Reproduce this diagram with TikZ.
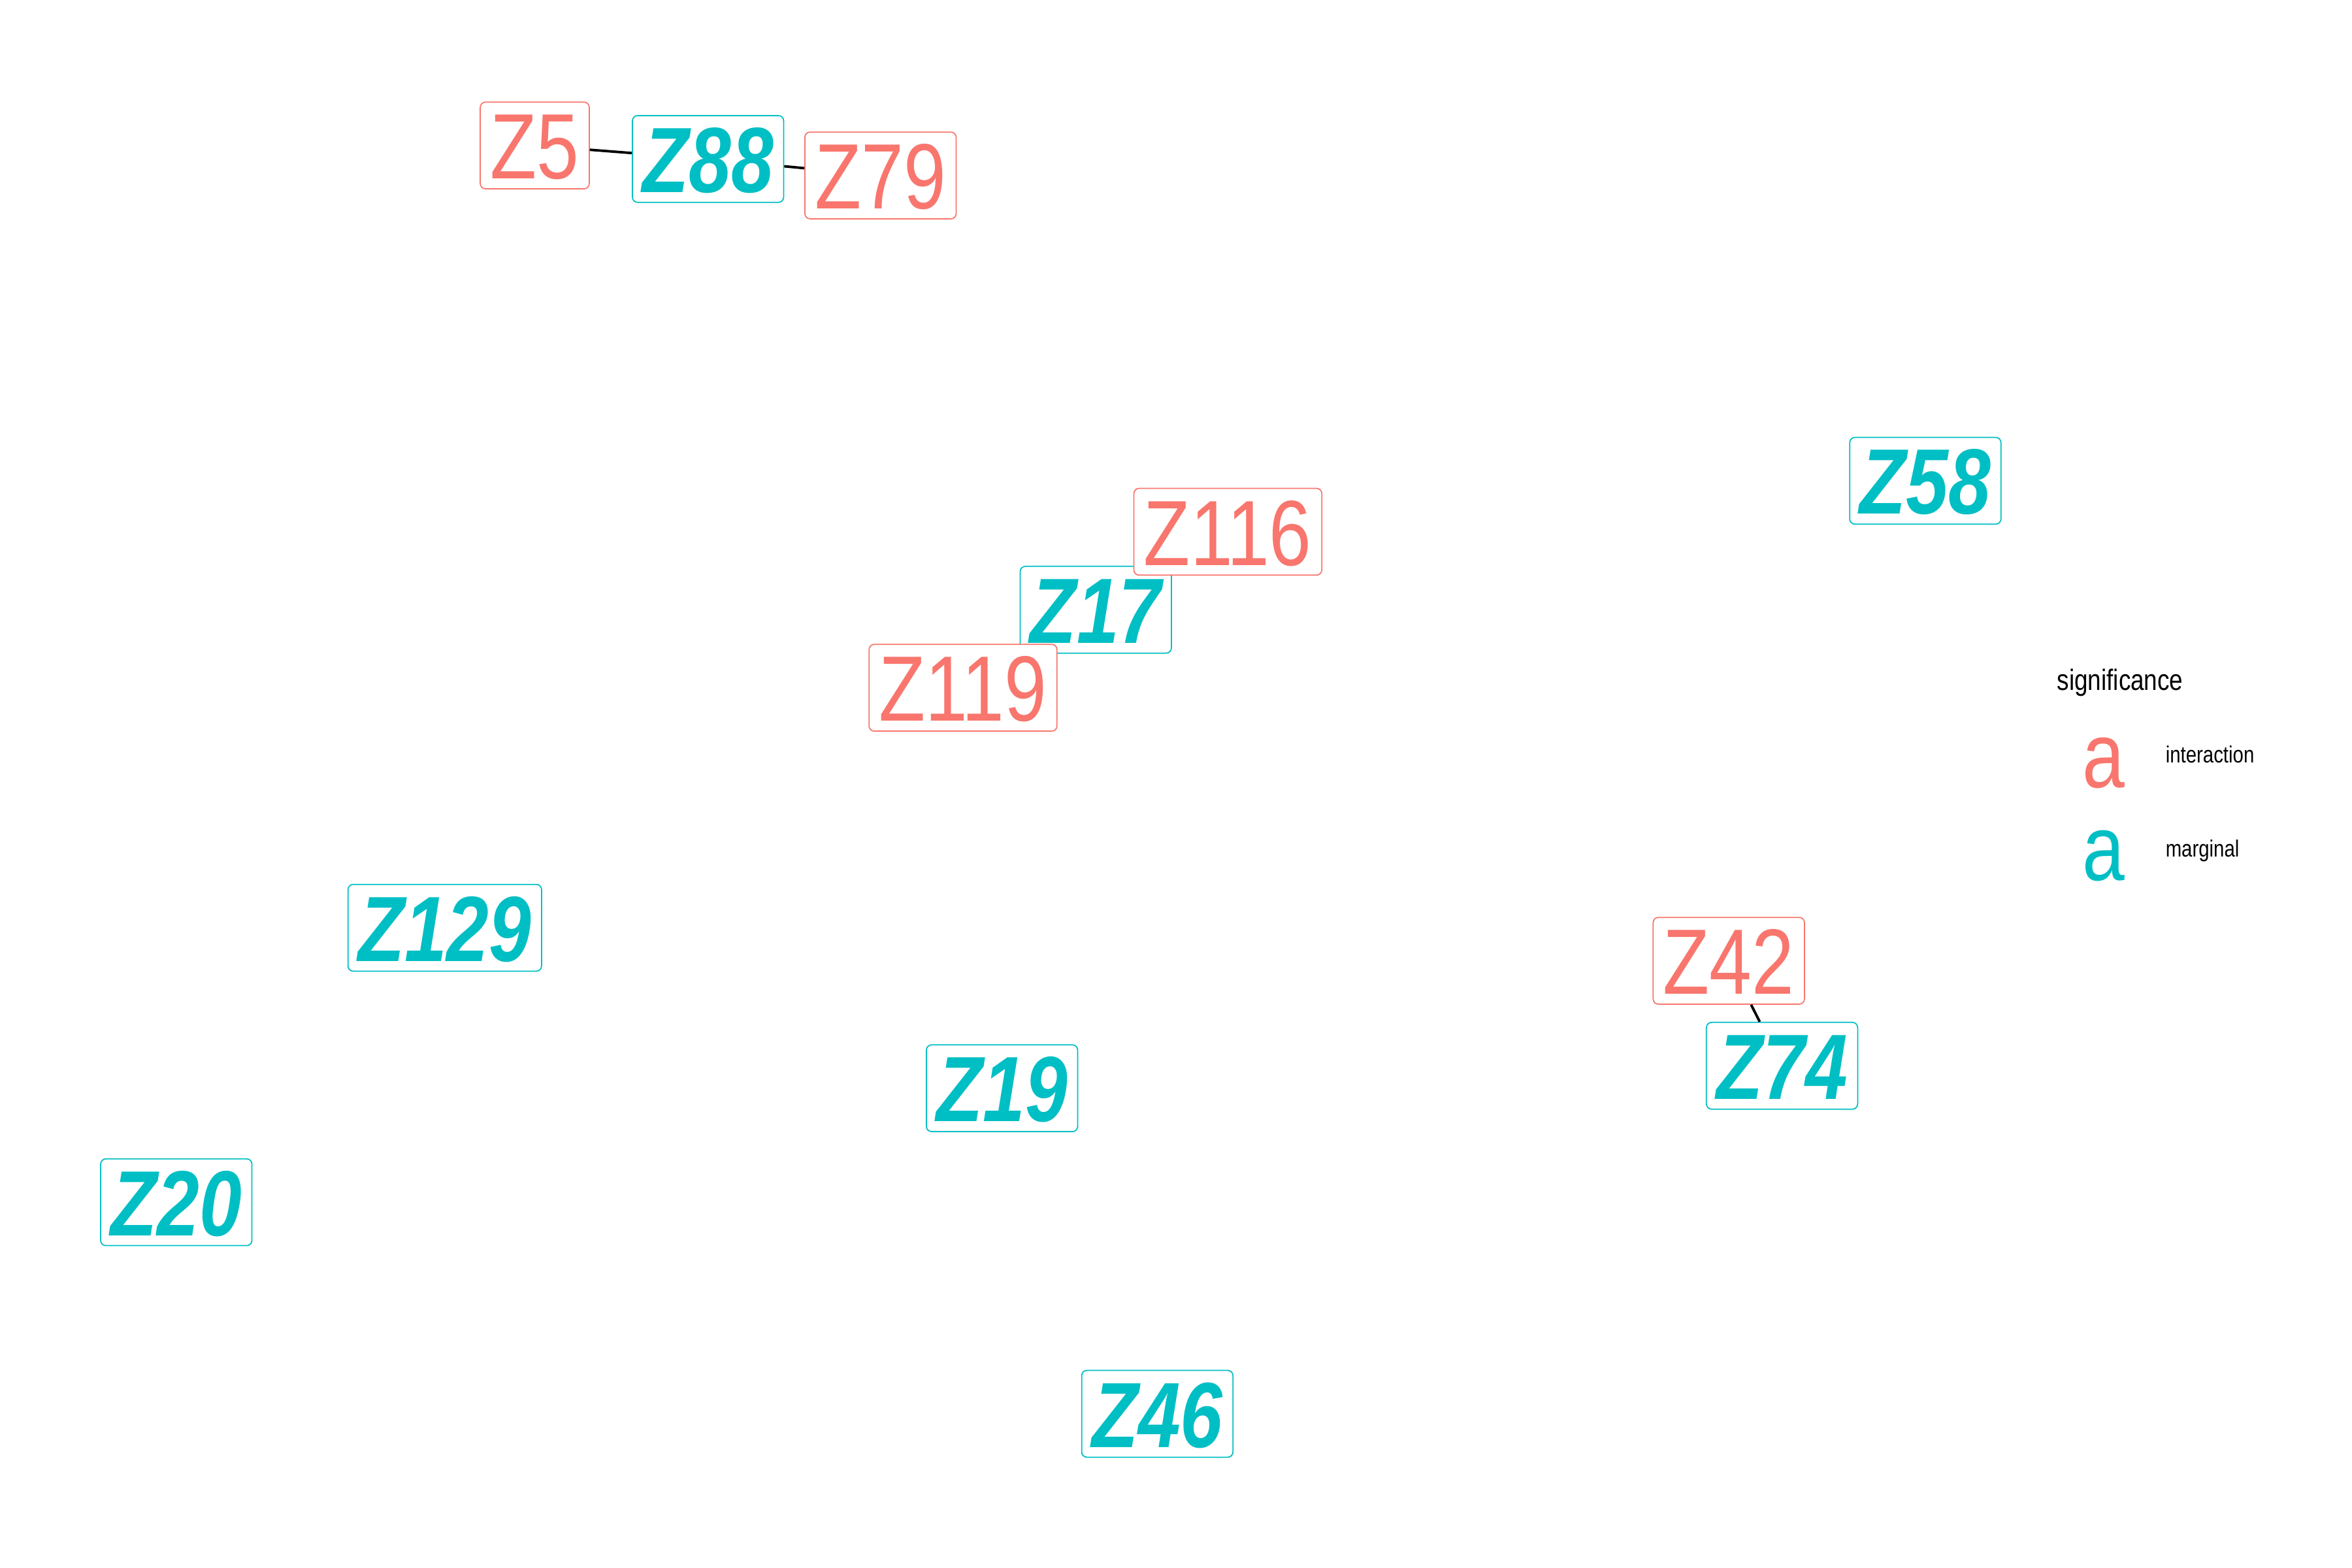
\documentclass[tikz,border=0pt]{standalone}
\usepackage{fontspec}
\setmainfont{Liberation Sans}
\newfontfamily\narrowfont[FakeStretch=0.82]{Liberation Sans}
\usepackage{xcolor}
\usetikzlibrary{positioning}

\definecolor{intcol}{HTML}{F8766D}
\definecolor{marcol}{HTML}{00BFC4}

\begin{document}
\begin{tikzpicture}[
        lab/.style={draw, fill=white, rounded corners=2.3pt, line width=0.5pt,
          font=\narrowfont\fontsize{40.4}{48}\selectfont,
          text height=29.1pt, text depth=0pt, inner xsep=4.4pt, inner ysep=4.35pt},
        interaction/.style={lab, draw=intcol, text=intcol},
        marginal/.style={lab, draw=marcol, text=marcol,
          font=\narrowfont\fontsize{40.4}{48}\selectfont\bfseries\itshape},
        link/.style={line width=1.1pt, black},
        legtext/.style={inner sep=0pt, anchor=base west},
      ]
      \useasboundingbox (0,0) rectangle (36,24);

      % labels
      \node[interaction] (z5)   at (8.185,21.773)  {Z5};
      \node[marginal]    (z88)  at (10.837,21.566) {Z88};
      \node[interaction] (z79)  at (13.477,21.314) {Z79};
      \node[marginal]    (z58)  at (29.469,16.641) {Z58};
      \node[marginal]    (z17)  at (16.772,14.667) {Z17};
      \node[interaction] (z116) at (18.793,15.861) {Z116};
      \node[interaction] (z119) at (14.740,13.473) {Z119};
      \node[marginal]    (z129) at (6.808,9.799)   {Z129};
      \node[interaction] (z42)  at (26.461,9.294)  {Z42};
      \node[marginal]    (z74)  at (27.276,7.687)  {Z74};
      \node[marginal]    (z19)  at (15.337,7.343)  {Z19};
      \node[marginal]    (z20)  at (2.698,5.598)   {Z20};
      \node[marginal]    (z46)  at (17.714,2.360)  {Z46};

      \path[link]
      (z5)  edge (z88)
      (z88) edge (z79)
      (z42) edge (z74);

      % legend
      \node[legtext, font=\narrowfont\fontsize{12.8}{15}\selectfont]
        (legtitle) at (31.48,13.43) {significance};
      \node[inner sep=0pt, anchor=base, text=intcol,
        font=\narrowfont\fontsize{40.4}{48}\selectfont]
        (keyint) at (32.20,11.94) {a};
      \node[inner sep=0pt, anchor=base, text=marcol,
        font=\narrowfont\fontsize{40.4}{48}\selectfont]
        (keymar) at (32.20,10.52) {a};
      \node[legtext, font=\narrowfont\fontsize{10.2}{12}\selectfont]
        (legint) at (33.14,12.32) {interaction};
      \node[legtext, font=\narrowfont\fontsize{10.2}{12}\selectfont]
        (legmar) at (33.14,10.88) {marginal};
    \end{tikzpicture}
\end{document}
